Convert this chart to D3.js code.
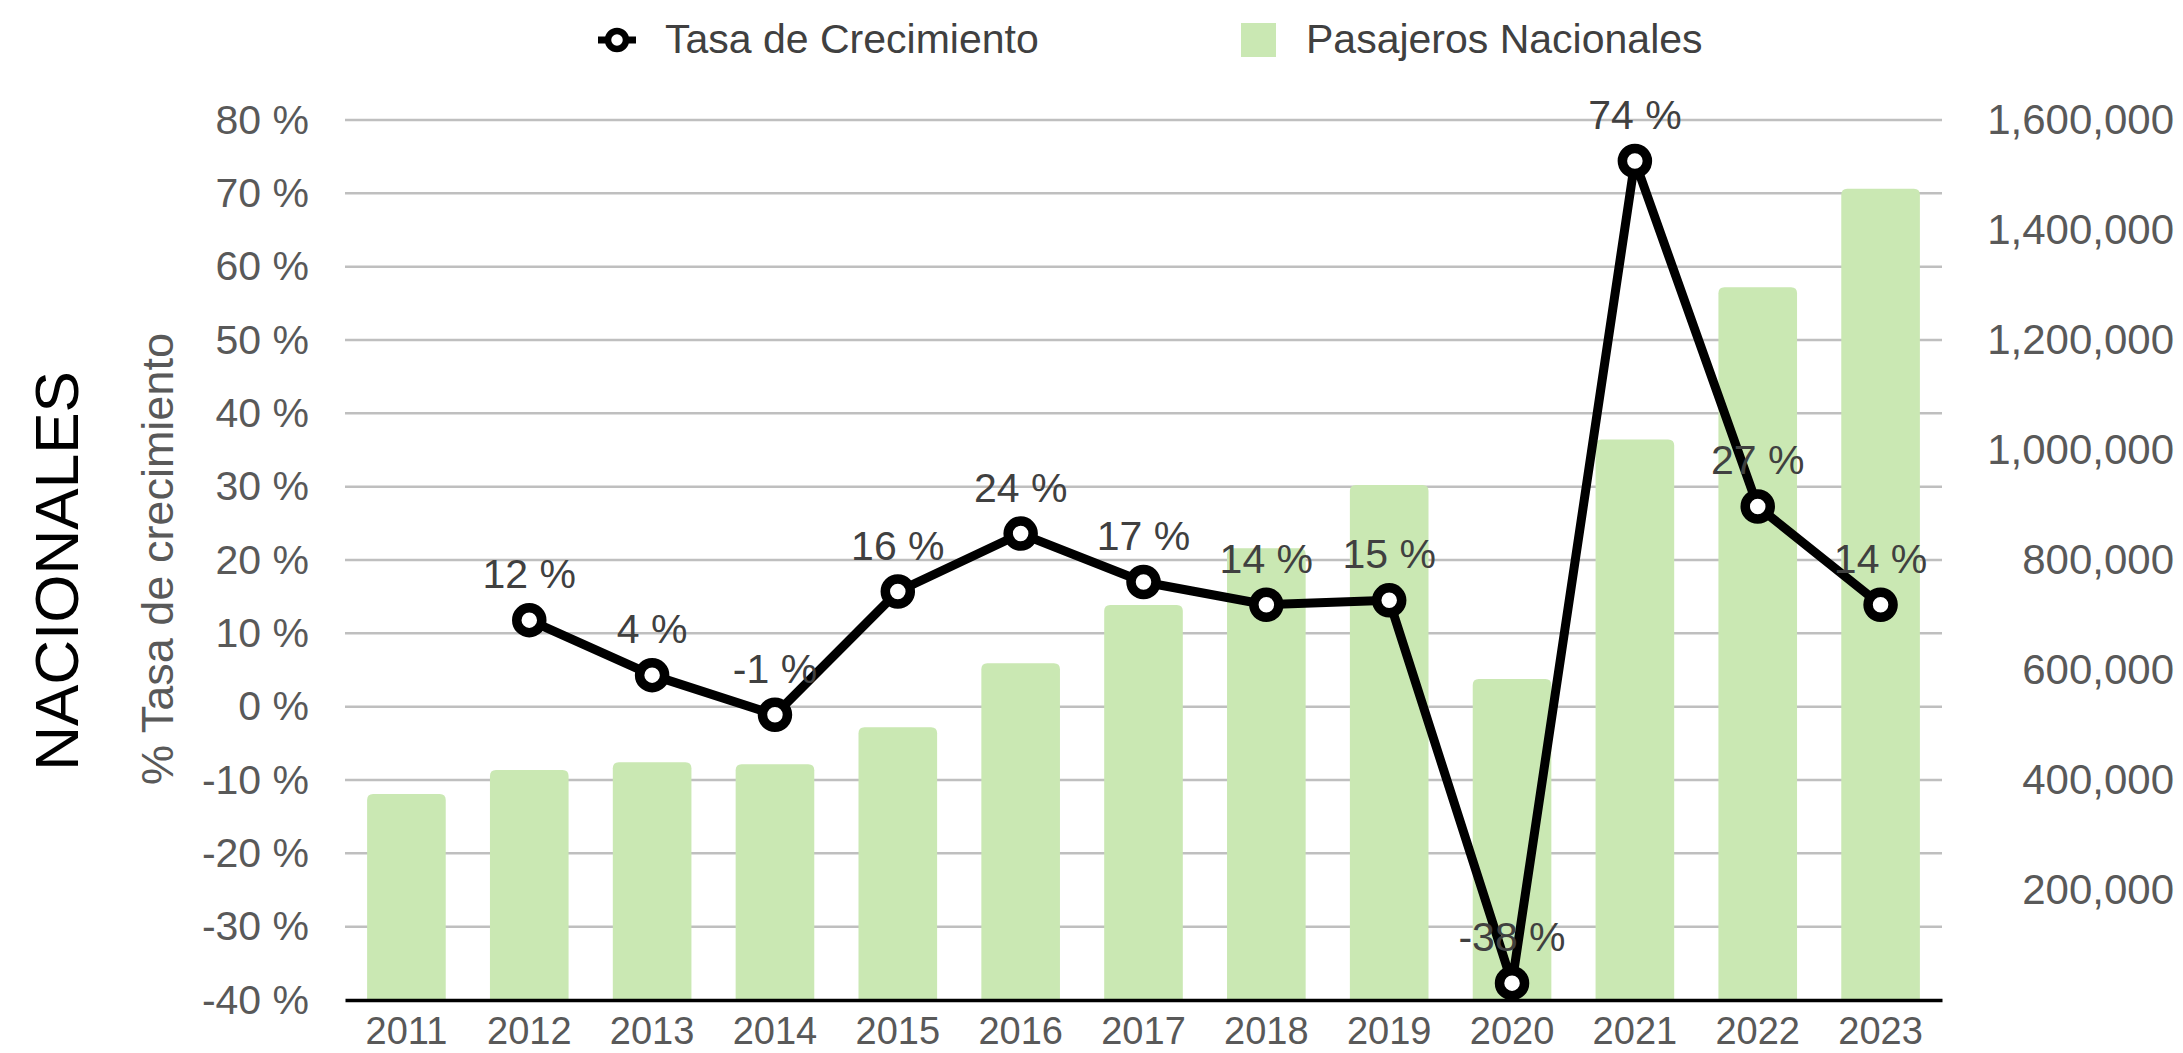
<!DOCTYPE html>
<html>
<head>
<meta charset="utf-8">
<script src="https://cdn.jsdelivr.net/npm/d3@7"></script>
<style>
  body { margin: 0; background: #fff; }
  text { font-family: 'Liberation Sans', Arial, sans-serif; }
</style>
</head>
<body>
<div id="chart"></div>
<script>
let years = ['2011', '2012', '2013', '2014', '2015', '2016', '2017', '2018', '2019', '2020', '2021', '2022', '2023']
let passengers = [374500, 418200, 432200, 428500, 495800, 612200, 718200, 821300, 936400, 583600, 1019000, 1295800, 1475100]
let growth = [null, 11.8, 4.3, -1.1, 15.7, 23.6, 17.0, 13.9, 14.5, -37.7, 74.4, 27.3, 13.9]
let rateTicks = [-40, -30, -20, -10, 0, 10, 20, 30, 40, 50, 60, 70, 80]
let paxTicks = [200000, 400000, 600000, 800000, 1000000, 1200000, 1400000, 1600000]

let width = 2183
let height = 1053
let margin = { top: 120, left: 345, right: 241, bottom: 53 }
let plotW = width - margin.left - margin.right
let plotH = height - margin.top - margin.bottom

let svg = d3
  .select('#chart')
  .append('svg')
  .attr('width', width)
  .attr('height', height)

let g = svg
  .append('g')
  .attr('transform', 'translate(' + margin.left + ',' + margin.top + ')')

let xPositionScale = d3
  .scaleBand()
  .domain(years)
  .range([0, plotW])
  .paddingInner(0.36)
  .paddingOuter(0.18)

let yRate = d3.scaleLinear().domain([-40, 80]).range([plotH, 0])
let yPax = d3.scaleLinear().domain([0, 1600000]).range([plotH, 0])

// gridlines
g.append('g')
  .attr('class', 'grid')
  .selectAll('line')
  .data(rateTicks.filter(d => d > -40))
  .enter()
  .append('line')
  .attr('x1', 0)
  .attr('x2', plotW)
  .attr('y1', d => yRate(d))
  .attr('y2', d => yRate(d))
  .attr('stroke', '#bfbfbf')
  .attr('stroke-width', 2.5)

// bars with rounded tops
function barPath(x, y, w, h, r) {
  return 'M' + x + ',' + (y + h) +
    'V' + (y + r) +
    'Q' + x + ',' + y + ' ' + (x + r) + ',' + y +
    'H' + (x + w - r) +
    'Q' + (x + w) + ',' + y + ' ' + (x + w) + ',' + (y + r) +
    'V' + (y + h) + 'Z'
}

g.selectAll('.bar')
  .data(passengers)
  .enter()
  .append('path')
  .attr('class', 'bar')
  .attr('fill', '#cae8b3')
  .attr('d', (d, i) => {
    let x = xPositionScale(years[i])
    let y = yPax(d)
    return barPath(x, y, xPositionScale.bandwidth(), plotH - y, 6)
  })

// x axis
let xAxis = d3.axisBottom(xPositionScale).tickSize(0).tickSizeOuter(0).tickPadding(17)
let xg = g
  .append('g')
  .attr('class', 'axis x-axis')
  .attr('transform', 'translate(0,' + plotH + ')')
  .call(xAxis)
xg.select('.domain').attr('stroke', '#000').attr('stroke-width', 3.5)
xg.selectAll('text').attr('font-size', 38).attr('fill', '#595959')

// left axis
let yAxis = d3
  .axisLeft(yRate)
  .tickValues(rateTicks)
  .tickSize(0)
  .tickPadding(36)
  .tickFormat(d => d + ' %')
let yg = g.append('g').attr('class', 'axis y-axis').call(yAxis)
yg.select('.domain').remove()
yg.selectAll('text').attr('font-size', 41).attr('fill', '#595959')

// right axis
let yAxisRight = d3
  .axisRight(yPax)
  .tickValues(paxTicks)
  .tickSize(0)
  .tickFormat(d3.format(','))
let yr = g
  .append('g')
  .attr('class', 'axis y-axis-right')
  .attr('transform', 'translate(' + plotW + ',0)')
  .call(yAxisRight)
yr.select('.domain').remove()
yr.selectAll('text')
  .attr('font-size', 42)
  .attr('fill', '#595959')
  .attr('text-anchor', 'end')
  .attr('x', 2174 - margin.left - plotW)

// growth line
let points = growth
  .map((d, i) => ({ year: years[i], value: d }))
  .filter(d => d.value !== null)

let line = d3
  .line()
  .x(d => xPositionScale(d.year) + xPositionScale.bandwidth() / 2)
  .y(d => yRate(d.value))

g.append('path')
  .datum(points)
  .attr('d', line)
  .attr('fill', 'none')
  .attr('stroke', '#000')
  .attr('stroke-width', 9)
  .attr('stroke-linejoin', 'round')

g.selectAll('.marker')
  .data(points)
  .enter()
  .append('circle')
  .attr('class', 'marker')
  .attr('cx', d => xPositionScale(d.year) + xPositionScale.bandwidth() / 2)
  .attr('cy', d => yRate(d.value))
  .attr('r', 12.5)
  .attr('fill', '#fff')
  .attr('stroke', '#000')
  .attr('stroke-width', 9.5)

g.selectAll('.label-text')
  .data(points)
  .enter()
  .append('text')
  .attr('class', 'label-text')
  .attr('x', d => xPositionScale(d.year) + xPositionScale.bandwidth() / 2)
  .attr('y', d => yRate(d.value) - 32)
  .attr('text-anchor', 'middle')
  .attr('font-size', 41)
  .attr('fill', '#404040')
  .text(d => Math.round(d.value) + ' %')

// axis titles
svg
  .append('text')
  .attr('transform', 'translate(173,559) rotate(-90)')
  .attr('text-anchor', 'middle')
  .attr('font-size', 45)
  .attr('fill', '#595959')
  .text('% Tasa de crecimiento')

svg
  .append('text')
  .attr('transform', 'translate(78,571) rotate(-90)')
  .attr('text-anchor', 'middle')
  .attr('font-size', 62)
  .attr('fill', '#000')
  .text('NACIONALES')

// legend
let legend = svg.append('g').attr('class', 'legend')
legend
  .append('line')
  .attr('x1', 598)
  .attr('x2', 636)
  .attr('y1', 40)
  .attr('y2', 40)
  .attr('stroke', '#000')
  .attr('stroke-width', 7)
legend
  .append('circle')
  .attr('cx', 617)
  .attr('cy', 40)
  .attr('r', 9)
  .attr('fill', '#fff')
  .attr('stroke', '#000')
  .attr('stroke-width', 6.5)
legend
  .append('text')
  .attr('x', 665)
  .attr('y', 53)
  .attr('font-size', 41)
  .attr('fill', '#404040')
  .text('Tasa de Crecimiento')
legend
  .append('rect')
  .attr('x', 1241)
  .attr('y', 23)
  .attr('width', 35)
  .attr('height', 34)
  .attr('fill', '#cae8b3')
legend
  .append('text')
  .attr('x', 1306)
  .attr('y', 53)
  .attr('font-size', 41)
  .attr('fill', '#404040')
  .text('Pasajeros Nacionales')
</script>
</body>
</html>
